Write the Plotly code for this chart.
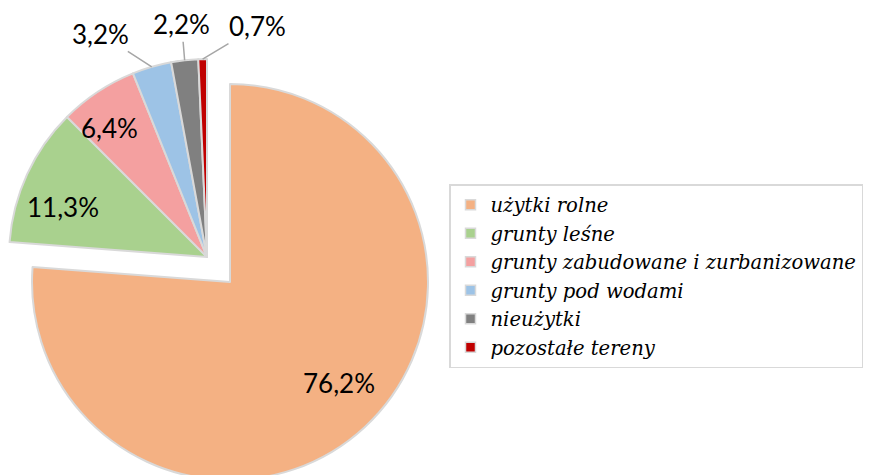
import math
import plotly.graph_objects as go

# land use shares (%)
labels = ["użytki rolne", "grunty leśne", "grunty zabudowane i zurbanizowane",
          "grunty pod wodami", "nieużytki", "pozostałe tereny"]
values = [76.2, 11.3, 6.4, 3.2, 2.2, 0.7]
colors = ["#F4B183", "#A9D18E", "#F4A0A0", "#9DC3E6", "#808080", "#C00000"]

W, H = 871, 475
OFF = 8                    # page body margin added by the browser
R = 198
CX, CY = 207 - OFF, 257 - OFF   # centre of the main pie
PX, PY = 230 - OFF, 282 - OFF   # centre of the pulled-out slice
BORDER = "#D9D9D9"
CLEAR = "rgba(0,0,0,0)"
LABEL_FONT = dict(family="Lato", size=26, color="#000")


def fmt(v):
    return f"{v:.1f}%".replace(".", ",")


def domain(cx, cy):
    return dict(x=[(cx - R) / W, (cx + R) / W],
                y=[(H - cy - R) / H, (H - cy + R) / H])


fig = go.Figure()

# small slices (big one left transparent, it's drawn pulled out below)
fig.add_trace(go.Pie(
    labels=labels, values=values, sort=False, direction="clockwise",
    domain=domain(CX, CY),
    marker=dict(colors=[CLEAR] + colors[1:],
                line=dict(color=[CLEAR] + [BORDER] * 5, width=[0] + [2] * 5)),
    textinfo="none", hoverinfo="none", showlegend=False,
))

# exploded "użytki rolne" slice
fig.add_trace(go.Pie(
    labels=labels, values=values, sort=False, direction="clockwise",
    domain=domain(PX, PY),
    marker=dict(colors=[colors[0]] + [CLEAR] * 5,
                line=dict(color=[BORDER] + [CLEAR] * 5, width=[2] + [0] * 5)),
    textinfo="none", hoverinfo="none", showlegend=False,
))

# legend entries
for lab, col in zip(labels, colors):
    fig.add_trace(go.Scatter(
        x=[None], y=[None], mode="markers", name=lab,
        marker=dict(symbol="square", size=10, color=col,
                    line=dict(color=BORDER, width=1.5)),
    ))

# data labels: inside ones placed along the slice (radius fraction, angle nudge),
# outside ones with a leader line from the rim (text offset in px)
inside_pos = {0: (0.75, -4.4), 1: (0.77, -5.5), 2: (0.815, -3.5)}
outside_off = {3: (-51, -33), 4: (-3, -36), 5: (55, -33)}
total = sum(values)
start = 0.0
for i, v in enumerate(values):
    mid = (start + v / 2) / total * 360
    start += v
    cx, cy = (PX, PY) if i == 0 else (CX, CY)
    if i in inside_pos:
        frac, nudge = inside_pos[i]
        a = math.radians(mid + nudge)
        tx = cx + frac * R * math.sin(a)
        ty = cy - frac * R * math.cos(a)
        fig.add_annotation(x=tx / W, y=1 - ty / H, xref="paper", yref="paper",
                           xanchor="center", yanchor="middle",
                           text=fmt(v), showarrow=False, font=LABEL_FONT)
    else:
        a = math.radians(mid)
        tx = cx + R * math.sin(a)
        ty = cy - R * math.cos(a)
        ax, ay = outside_off[i]
        fig.add_annotation(
            x=tx / W, y=1 - ty / H, xref="paper", yref="paper",
            text=fmt(v), showarrow=True, arrowhead=0, arrowwidth=1.5,
            arrowcolor="#A6A6A6", ax=ax, ay=ay, standoff=0, font=LABEL_FONT,
        )

fig.update_layout(
    width=W, height=H,
    margin=dict(l=0, r=0, t=0, b=0),
    paper_bgcolor="white", plot_bgcolor="white",
    xaxis=dict(visible=False), yaxis=dict(visible=False),
    legend=dict(
        x=(449 - OFF) / W, y=1 - (184 - OFF) / H, xanchor="left", yanchor="top",
        bordercolor=BORDER, borderwidth=1.5,
        font=dict(family="DejaVu Serif", size=19.6, style="italic", color="#000"),
    ),
)

fig.write_html("out.html")
